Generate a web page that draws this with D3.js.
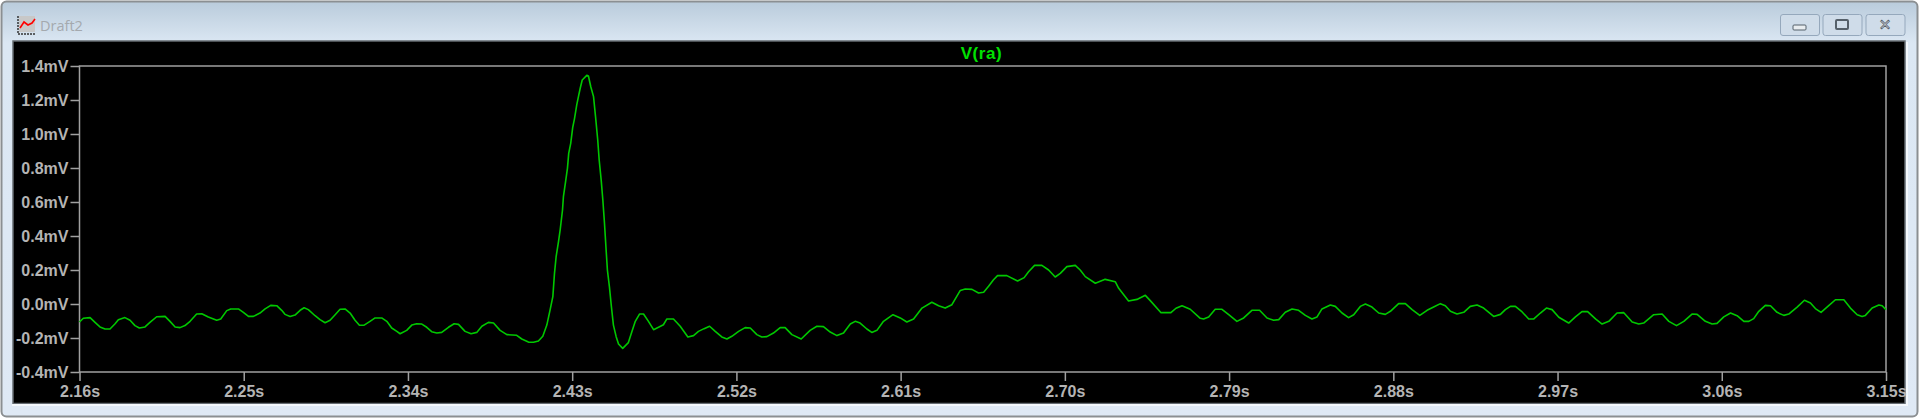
<!DOCTYPE html>
<html><head><meta charset="utf-8">
<style>html,body{margin:0;padding:0;background:#000;overflow:hidden}svg{display:block}</style>
<script src="https://cdn.jsdelivr.net/npm/d3@7/dist/d3.min.js"></script>
</head><body><svg id="c" width="1920" height="418"></svg>
<script>
const chartTitle = "V(ra)";
const windowTitle = "Draft2";
const xTickValues = [2.16,2.25,2.34,2.43,2.52,2.61,2.70,2.79,2.88,2.97,3.06,3.15];
const yTickValues = [1.4,1.2,1.0,0.8,0.6,0.4,0.2,0.0,-0.2,-0.4];
const timeS = [
2.1600,2.1621,2.1658,2.1685,2.1712,2.1740,2.1767,2.1795,2.1813,2.1849,2.1877,2.1904,2.1928,2.1959,2.1986,2.2023,2.2069,2.2096,2.2124,2.2151,2.2178,2.2206,2.2242,2.2270,2.2306,2.2352,2.2374,2.2407,2.2429,2.2471,2.2498,2.2526,2.2553,2.2589,2.2617,2.2648,2.2681,2.2708,2.2726,2.2754,2.2781,2.2809,2.2831,2.2854,2.2891,2.2918,2.2946,2.2973,2.3001,2.3028,2.3055,2.3083,2.3110,2.3134,2.3160,2.3192,2.3220,2.3256,2.3284,2.3311,2.3339,2.3357,2.3393,2.3421,2.3448,2.3476,2.3503,2.3530,2.3558,2.3585,2.3622,2.3653,2.3677,2.3713,2.3746,2.3777,2.3805,2.3841,2.3869,2.3905,
2.3942,2.3996,2.4024,2.4060,2.4088,2.4115,2.4139,2.4161,2.4179,2.4194,2.4203,2.4212,2.4225,2.4234,2.4247,2.4252,2.4265,2.4274,2.4281,2.4292,2.4303,2.4313,2.4325,2.4336,2.4344,2.4355,2.4380,2.4389,2.4402,2.4417,2.4428,2.4440,2.4448,2.4459,2.4468,2.4477,2.4486,2.4493,2.4504,2.4515,2.4526,2.4541,2.4554,2.4577,2.4608,2.4627,2.4645,2.4669,
2.4691,2.4718,2.4746,2.4773,2.4800,2.4819,2.4855,2.4892,2.4934,2.4965,2.4992,2.5023,2.5053,2.5084,2.5120,2.5148,2.5175,2.5212,2.5248,2.5276,2.5312,2.5339,2.5367,2.5403,2.5440,2.5467,2.5504,2.5555,2.5604,2.5641,2.5677,2.5714,2.5751,2.5787,2.5824,2.5851,2.5878,2.5915,2.5942,2.5970,2.6006,2.6058,2.6098,2.6134,2.6171,2.6217,2.6271,2.6308,2.6344,2.6381,2.6427,2.6454,2.6491,2.6527,2.6555,2.6582,2.6609,
2.6631,2.6682,2.6741,2.6777,2.6801,2.6834,2.6874,2.6911,2.6947,2.6975,2.7011,2.7057,2.7084,2.7112,2.7167,2.7221,2.7276,2.7295,2.7349,2.7395,2.7441,2.7468,2.7527,2.7581,2.7609,2.7642,2.7687,2.7742,
2.7760,2.7788,2.7824,2.7861,2.7898,2.7943,2.7980,2.8025,2.8067,2.8108,2.8144,2.8172,2.8208,2.8245,2.8281,2.8318,2.8354,2.8382,2.8409,2.8455,2.8482,2.8519,2.8555,2.8583,2.8619,2.8647,2.8683,2.8720,2.8756,2.8784,2.8829,2.8866,2.8903,2.8945,2.8985,2.9021,2.9058,2.9085,2.9113,2.9149,2.9186,2.9222,2.9259,2.9295,2.9350,2.9387,
2.9414,2.9442,2.9469,2.9506,2.9542,2.9570,2.9606,2.9639,2.9670,2.9707,2.9761,2.9798,2.9834,2.9865,2.9908,2.9944,2.9981,3.0026,3.0063,3.0109,3.0145,3.0172,3.0227,3.0273,3.0310,3.0352,3.0392,3.0437,3.0465,3.0510,3.0547,3.0574,3.0611,3.0648,3.0684,3.0721,3.0748,3.0775,3.0803,3.0839,3.0867,3.0903,3.0940,3.0967,3.1013,3.1053,3.1086,3.1113,3.1144,3.1186,3.1223,3.1269,3.1305,3.1342,3.1369,3.1387,3.1424,3.1461,3.1479,3.1500];
const voltageMV = [
-0.106,-0.084,-0.080,-0.108,-0.135,-0.147,-0.147,-0.116,-0.092,-0.080,-0.096,-0.127,-0.141,-0.135,-0.108,-0.075,-0.073,-0.102,-0.135,-0.139,-0.127,-0.102,-0.059,-0.057,-0.076,-0.096,-0.088,-0.039,-0.029,-0.029,-0.049,-0.073,-0.073,-0.053,-0.029,-0.008,-0.010,-0.037,-0.061,-0.073,-0.065,-0.037,-0.022,-0.033,-0.069,-0.092,-0.110,-0.096,-0.063,-0.031,-0.029,-0.053,-0.096,-0.125,-0.124,-0.102,-0.082,-0.082,-0.102,-0.141,-0.161,-0.175,-0.155,-0.124,-0.116,-0.118,-0.137,-0.163,-0.171,-0.167,-0.137,-0.116,-0.120,-0.161,-0.175,-0.167,-0.131,-0.108,-0.112,-0.155,
-0.180,-0.184,-0.206,-0.224,-0.225,-0.218,-0.190,-0.124,-0.035,0.043,0.180,0.278,0.367,0.435,0.553,0.631,0.729,0.798,0.886,0.945,1.039,1.092,1.171,1.229,1.269,1.318,1.345,1.341,1.278,1.220,1.102,0.965,0.847,0.729,0.612,0.475,0.318,0.200,0.102,-0.016,-0.124,-0.192,-0.235,-0.261,-0.227,-0.163,-0.104,-0.059,
-0.059,-0.102,-0.151,-0.137,-0.122,-0.088,-0.088,-0.131,-0.194,-0.186,-0.161,-0.145,-0.131,-0.161,-0.194,-0.206,-0.190,-0.161,-0.139,-0.141,-0.180,-0.194,-0.192,-0.171,-0.139,-0.139,-0.180,-0.206,-0.155,-0.131,-0.133,-0.165,-0.186,-0.171,-0.118,-0.102,-0.112,-0.147,-0.167,-0.155,-0.102,-0.063,-0.082,-0.106,-0.088,-0.024,0.010,-0.010,-0.024,-0.004,0.080,0.088,0.086,0.065,0.069,0.104,0.143,
0.167,0.167,0.135,0.155,0.190,0.227,0.227,0.200,0.159,0.180,0.220,0.227,0.200,0.161,0.122,0.145,0.131,0.092,0.018,0.027,0.051,0.020,-0.051,-0.051,-0.025,-0.010,-0.031,-0.084,
-0.088,-0.076,-0.031,-0.031,-0.063,-0.102,-0.082,-0.037,-0.037,-0.082,-0.096,-0.092,-0.049,-0.029,-0.037,-0.067,-0.088,-0.076,-0.029,-0.006,-0.014,-0.053,-0.080,-0.063,-0.014,0.000,-0.018,-0.053,-0.061,-0.043,0.002,0.002,-0.033,-0.067,-0.037,-0.018,0.002,-0.010,-0.043,-0.059,-0.049,-0.014,-0.006,-0.024,-0.073,-0.061,
-0.033,-0.014,-0.014,-0.047,-0.088,-0.088,-0.053,-0.024,-0.033,-0.078,-0.112,-0.076,-0.045,-0.045,-0.088,-0.118,-0.102,-0.053,-0.051,-0.106,-0.118,-0.112,-0.063,-0.059,-0.102,-0.127,-0.102,-0.059,-0.061,-0.102,-0.118,-0.114,-0.076,-0.053,-0.069,-0.102,-0.102,-0.086,-0.043,-0.008,-0.010,-0.049,-0.067,-0.059,-0.018,0.022,0.006,-0.027,-0.049,-0.010,0.025,0.025,-0.024,-0.063,-0.073,-0.067,-0.024,-0.006,-0.010,-0.033];

const svg = d3.select("#c");
const FONT = "'Liberation Sans', Arial, sans-serif";
const margin = {left:79.5, top:66, right:1886, bottom:372};
const x = d3.scaleLinear().domain([2.16,3.15]).range([margin.left, margin.right]);
const y = d3.scaleLinear().domain([-0.4,1.4]).range([margin.bottom, margin.top]);

// window frame
const defs = svg.append("defs");
const g = defs.append("linearGradient").attr("id","frame").attr("x1",0).attr("x2",0).attr("y1",0).attr("y2",1);
g.append("stop").attr("offset",0).attr("stop-color","#b9cbdb");
g.append("stop").attr("offset",0.1).attr("stop-color","#dbe7f3");
g.append("stop").attr("offset",1).attr("stop-color","#dfe9f5");
const bg = svg.append("g");
bg.append("rect").attr("width",1920).attr("height",418).attr("fill","#ffffff");
bg.append("rect").attr("x",1.5).attr("y",1.5).attr("width",1916).attr("height",415).attr("rx",5)
  .attr("fill","url(#frame)").attr("stroke","#8b8f92").attr("stroke-width",2);
bg.append("rect").attr("x",13).attr("y",41).attr("width",1892).attr("height",362.5)
  .attr("fill","#000").attr("stroke","#666c72").attr("stroke-width",1.5);
bg.append("rect").attr("x",1906).attr("y",42).attr("width",2).attr("height",362).attr("fill","#f4f8fc");
bg.append("rect").attr("x",12).attr("y",404).attr("width",1896).attr("height",2).attr("fill","#f4f8fc");

// title bar icon
const ic = svg.append("g").attr("transform","translate(15,15)");
ic.append("rect").attr("x",4).attr("y",1).attr("width",16).attr("height",16).attr("fill","#c8c8c8");
ic.append("path").attr("d","M3,1V19H20").attr("fill","none").attr("stroke","#333").attr("stroke-width",1.5).attr("stroke-dasharray","2 1");
ic.append("path").attr("d","M5,13L9,7L13,10L17,8L20,4").attr("fill","none").attr("stroke","#f00").attr("stroke-width",1.6);
svg.append("text").text(windowTitle).attr("x",40).attr("y",31).attr("font-family","'Open Sans',sans-serif").attr("font-size",14.5).attr("fill","#a4a9ae");

// window buttons
const btnX = [1780.5,1823,1866];
const btnW = [39,39,39];
btnX.forEach((bx,i)=>{
  svg.append("rect").attr("x",bx).attr("y",14.5).attr("width",btnW[i]).attr("height",21).attr("rx",2.5)
    .attr("fill","#cfdce9").attr("stroke","#95a8bc");
});
svg.append("rect").attr("x",1793).attr("y",25).attr("width",13).attr("height",5).attr("rx",1).attr("fill","#e8ecef").attr("stroke","#55606a");
svg.append("rect").attr("x",1836).attr("y",20).attr("width",12).attr("height",9).attr("rx",1).attr("fill","none").attr("stroke","#55606a").attr("stroke-width",2);
svg.append("text").text("\u2715").attr("x",1885).attr("y",30).attr("text-anchor","middle").attr("font-family","'DejaVu Sans',sans-serif").attr("font-weight","bold").attr("font-size",15).attr("fill","#dfe3e6").attr("stroke","#55606a").attr("stroke-width",0.8);

const axisColor = "#a0a0a0", textColor = "#b4b4b4";
// axes
const xAxis = svg.append("g").attr("transform",`translate(0,${margin.bottom})`)
  .call(d3.axisBottom(x).tickValues(xTickValues).tickSize(9).tickPadding(5).tickFormat(d=>d.toFixed(2)+"s"));
const yAxis = svg.append("g").attr("transform",`translate(${margin.left},0)`)
  .call(d3.axisLeft(y).tickValues(yTickValues).tickSize(9).tickPadding(2).tickFormat(d=>d.toFixed(1)+"mV"));
[xAxis,yAxis].forEach(a=>{
  a.selectAll("path").remove();
  a.selectAll("line").attr("stroke",axisColor).attr("stroke-width",1.5);
  a.selectAll("text").attr("fill",textColor).attr("font-family",FONT).attr("font-weight","bold").attr("font-size",16);
});
svg.append("rect").attr("x",margin.left).attr("y",margin.top).attr("width",margin.right-margin.left).attr("height",margin.bottom-margin.top)
  .attr("fill","none").attr("stroke",axisColor).attr("stroke-width",1.5);

// trace
const pts = timeS.map((t,i)=>[t,voltageMV[i]]);
svg.append("path").datum(pts).attr("fill","none").attr("stroke","#00c800").attr("stroke-width",1.6)
  .attr("stroke-linejoin","round")
  .attr("d",d3.line().x(d=>x(d[0])).y(d=>y(d[1])));

svg.append("text").text(chartTitle).attr("x",981.5).attr("y",59).attr("text-anchor","middle")
  .attr("font-family",FONT).attr("font-weight","bold").attr("font-size",17).attr("letter-spacing",0.6).attr("fill","#00e000");
</script></body></html>
